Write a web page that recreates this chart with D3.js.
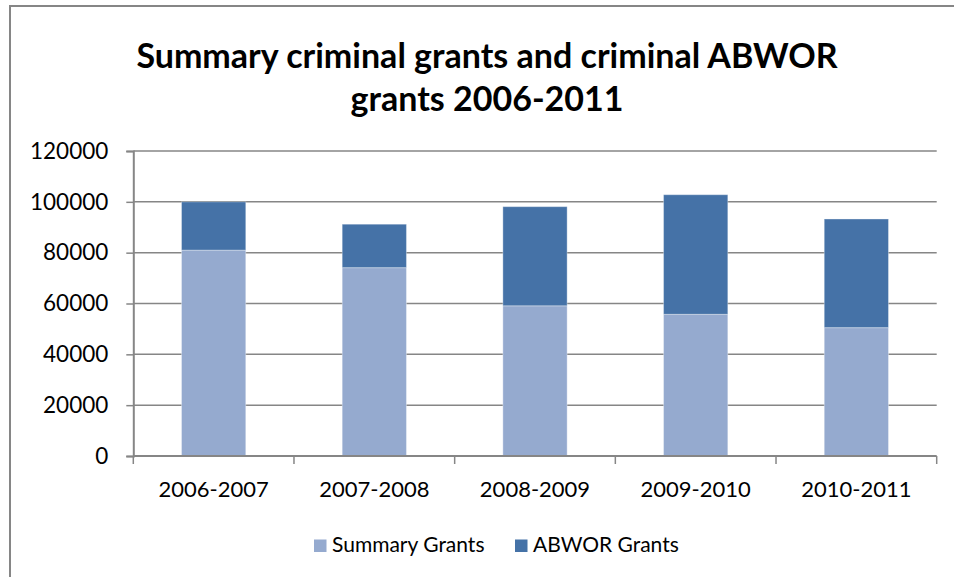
<!DOCTYPE html>
<html>
<head>
<meta charset="utf-8">
<script src="https://cdn.jsdelivr.net/npm/d3@7"></script>
<style>
  html, body { margin: 0; padding: 0; background: #fff; }
  svg { display: block; }
  text { font-family: Lato, "Open Sans", sans-serif; fill: #000; }
</style>
</head>
<body>
<svg id="chart" width="954" height="577"></svg>
<script>
// Fiscal years on the category axis
const years = ["2006-2007", "2007-2008", "2008-2009", "2009-2010", "2010-2011"];
// Grants per year, by type
const summaryGrants = [81000, 74100, 59100, 55750, 50500];
const abworGrants   = [19000, 17100, 39000, 47050, 42750];
// Series names and colours
const seriesNames  = ["Summary Grants", "ABWOR Grants"];
const seriesColors = ["#95aacf", "#4572a7"];
// Value axis ticks
const yTicks = [0, 20000, 40000, 60000, 80000, 100000, 120000];

const titleLines = ["Summary criminal grants and criminal ABWOR", "grants 2006-2011"];

const svg = d3.select("#chart");
const gridColor = "#868686";

// Outer chart frame (continues past the right and bottom edges)
svg.append("rect")
  .attr("x", 10).attr("y", 6)
  .attr("width", 1000).attr("height", 700)
  .attr("fill", "#fff")
  .attr("stroke", gridColor).attr("stroke-width", 2);

// Title
svg.append("g").selectAll("text")
  .data(titleLines)
  .join("text")
  .attr("x", 487)
  .attr("y", (d, i) => 68 + i * 43)
  .attr("text-anchor", "middle")
  .attr("font-size", 34)
  .attr("font-weight", 700)
  .text(d => d);

const plot = { left: 133.3, right: 936.7, top: 151, bottom: 456 };

const x = d3.scaleBand()
  .domain(years)
  .range([plot.left, plot.right])
  .paddingInner(0.6)
  .paddingOuter(0.3);

const y = d3.scaleLinear()
  .domain([0, 120000])
  .range([plot.bottom, plot.top]);

// Horizontal gridlines
svg.append("g").selectAll("line")
  .data(yTicks.filter(t => t > 0))
  .join("line")
  .attr("x1", plot.left).attr("x2", plot.right)
  .attr("y1", d => y(d)).attr("y2", d => y(d))
  .attr("stroke", gridColor).attr("stroke-width", 1.5);

// Stacked bars
const rows = years.map((yr, i) => ({ year: yr, summary: summaryGrants[i], abwor: abworGrants[i] }));
const stacked = d3.stack().keys(["summary", "abwor"])(rows);

svg.append("g").selectAll("g")
  .data(stacked)
  .join("g")
  .attr("fill", (d, i) => seriesColors[i])
  .selectAll("rect")
  .data(d => d)
  .join("rect")
  .attr("x", d => x(d.data.year))
  .attr("width", x.bandwidth())
  .attr("y", d => y(d[1]))
  .attr("height", d => y(d[0]) - y(d[1]))
  .attr("stroke", "rgba(255,255,255,0.35)")
  .attr("stroke-width", 1);

// Value axis
const yAxis = svg.append("g")
  .attr("transform", `translate(${plot.left},0)`)
  .call(d3.axisLeft(y).tickValues(yTicks).tickSize(7).tickPadding(18).tickFormat(d3.format("d")));
yAxis.select(".domain").attr("stroke", gridColor).attr("stroke-width", 2);
yAxis.selectAll(".tick line").attr("stroke", gridColor).attr("stroke-width", 1.5);
yAxis.selectAll(".tick text")
  .attr("font-size", 22.5)
  .attr("font-family", "Lato, 'Open Sans', sans-serif")
  .attr("fill", "#000");

// Category axis with ticks between categories
const xAxisG = svg.append("g");
xAxisG.append("line")
  .attr("x1", plot.left).attr("x2", plot.right)
  .attr("y1", plot.bottom).attr("y2", plot.bottom)
  .attr("stroke", gridColor).attr("stroke-width", 2);
const boundaries = years.map(yr => x(yr) - x.step() * x.paddingOuter()).concat([plot.right]);
xAxisG.selectAll("line.tick")
  .data(boundaries)
  .join("line")
  .attr("class", "tick")
  .attr("x1", d => d).attr("x2", d => d)
  .attr("y1", plot.bottom).attr("y2", plot.bottom + 8)
  .attr("stroke", gridColor).attr("stroke-width", 1.5);
xAxisG.selectAll("text")
  .data(years)
  .join("text")
  .attr("x", d => x(d) + x.bandwidth() / 2)
  .attr("y", 497)
  .attr("text-anchor", "middle")
  .attr("font-size", 22)
  .text(d => d);

// Legend
const legendX = [314, 515];
const legend = svg.append("g").selectAll("g")
  .data(seriesNames)
  .join("g")
  .attr("transform", (d, i) => `translate(${legendX[i]},539.5)`);
legend.append("rect")
  .attr("width", 12.5).attr("height", 12.5)
  .attr("fill", (d, i) => seriesColors[i]);
legend.append("text")
  .attr("x", 18).attr("y", 12.5)
  .attr("font-size", 21)
  .text(d => d);
</script>
</body>
</html>
